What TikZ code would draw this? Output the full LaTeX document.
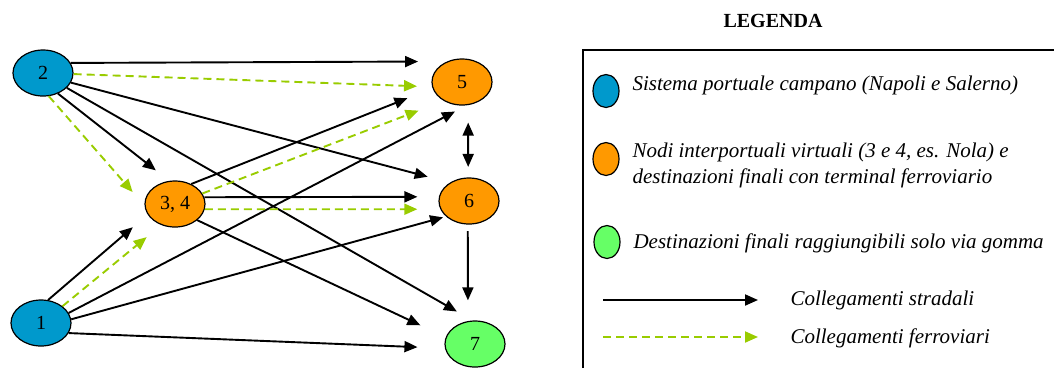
\documentclass[tikz,border=0pt]{standalone}
\usepackage{fontspec}
\setmainfont{Liberation Serif}
\usepackage{xcolor}
\definecolor{porto}{HTML}{0099CC}
\definecolor{interporto}{HTML}{FF9900}
\definecolor{gomma}{HTML}{66FF66}
\definecolor{ferro}{HTML}{99CC00}
\usetikzlibrary{arrows.meta, positioning, shapes.geometric}

\begin{document}
\begin{tikzpicture}[
  x=1pt, y=-1pt,
  font=\fontsize{20}{24}\selectfont,
  nodo/.style={
    ellipse, draw=black, line width=1.2pt, minimum width=60pt,
    minimum height=46pt, inner sep=0pt
  },
  mini/.style={
    ellipse, draw=black, line width=1.2pt, minimum width=26pt,
    minimum height=33pt, inner sep=0pt
  },
  strada/.style={line width=1.9pt, -{Triangle[length=13pt, width=11pt]}},
  ferrovia/.style={
    ferro, line width=1.9pt, dash pattern=on 8pt off 5pt,
    -{Triangle[length=13pt, width=11pt]}
  },
  voce/.style={anchor=base west, font=\fontsize{21}{25}\selectfont\itshape}
]
  \useasboundingbox (0,0) rectangle (1054,368);

  \node[nodo, fill=porto] (n2) at (43,73) {2\hspace{18pt}};
  \node[nodo, fill=porto] (n1) at (41,323) {1\hspace{14pt}};
  \node[nodo, fill=interporto] (n34) at (175,204) {3, 4};
  \node[nodo, fill=interporto] (n5) at (462,82) {5\hspace{6pt}};
  \node[nodo, fill=interporto] (n6) at (469,201) {6\hspace{8pt}};
  \node[nodo, fill=gomma] (n7) at (475,344) {7};

  % collegamenti stradali
  \foreach \a/\b/\s in {n2.20/n5.126.5/29, n2.341/n6.136/23, n2.328/n7.96/18,
      n2.306/n34.104/17, n34.51/n5.192/27, n34.13/n6.172/21.5,
      n34.324/n7.167.5/28, n1.73/n34.201/19.5, n1.20/n5.282/13.5,
      n1.7/n6.214/3, n1.340/n7.188/27.5} {
    \draw[strada, shorten >=\s pt] (\a) -- (\b);
  }
  \draw[line width=1.9pt, {Triangle[length=13pt, width=11pt]}-{Triangle[length=13pt, width=11pt]},
    shorten <=17.5pt, shorten >=10.5pt] (n5.285) -- (n6.92.5);
  \draw[strada, shorten <=6.5pt, shorten >=20.7pt] (n6.267.5) -- (n7.107.4);

  % collegamenti ferroviari
  \foreach \a/\b/\s in {n2.358/n5.189/15, n2.284/n34.183/18, n34.21/n5.226/27,
      n34.350.5/n6.196/23, n1.38/n34.237.5/19} {
    \draw[ferrovia, shorten >=\s pt] (\a) -- (\b);
  }

  % legenda
  \node[anchor=base, font=\fontsize{20}{24}\selectfont\bfseries] (titolo)
    at (773,27) {LEGENDA};
  \draw[line width=1.8pt] (583,368) |- (1054,50);
  \node[mini, fill=porto] (m1) at (606,91) {};
  \node[voce] (t1) at (629,90) {Sistema portuale campano (Napoli e Salerno)};
  \node[mini, fill=interporto] (m2) at (606,159) {};
  \node[voce] (t2) at (629,157) {Nodi interportuali virtuali (3 e 4, es. Nola) e};
  \node[voce] (t2b) at (629,183) {destinazioni finali con terminal ferroviario};
  \node[mini, fill=gomma] (m3) at (607,242) {};
  \node[voce] (t3) at (630,248) {Destinazioni finali raggiungibili solo via gomma};
  \coordinate (s0) at (603,300);
  \coordinate (s1) at (758,300);
  \draw[strada] (s0) -- (s1);
  \node[voce] (t4) at (787,305) {Collegamenti stradali};
  \coordinate (f0) at (603,337);
  \coordinate (f1) at (758,337);
  \draw[ferrovia] (f0) -- (f1);
  \node[voce] (t5) at (787,343) {Collegamenti ferroviari};
\end{tikzpicture}
\end{document}
